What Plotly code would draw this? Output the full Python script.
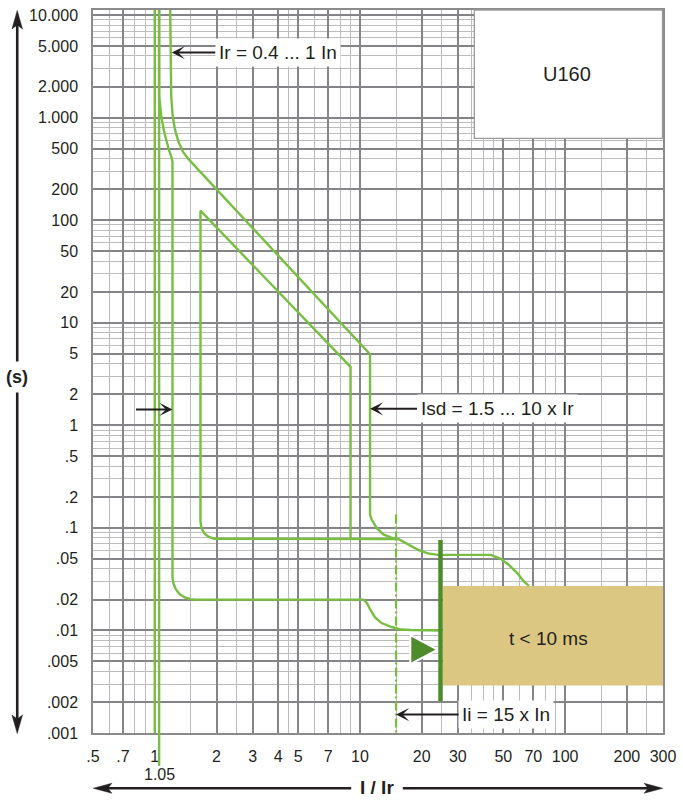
import numpy as np
import plotly.graph_objects as go

# ---------------- axis ticks and grid ----------------
x_tick_vals = [0.5, 0.7, 1, 2, 3, 4, 5, 7, 10, 20, 30, 50, 70, 100, 200, 300]
x_tick_text = [".5", ".7", "1", "2", "3", "4", "5", "7", "10", "20", "30", "50", "70", "100", "200", "300"]
x_minor_vals = [0.6, 0.8, 0.9, 1.5, 2.5, 4.5, 6, 8, 9, 15, 25, 35, 40, 45, 60, 80, 90, 150, 250]

y_tick_vals = [0.001, 0.002, 0.005, 0.01, 0.02, 0.05, 0.1, 0.2, 0.5, 1, 2, 5,
               10, 20, 50, 100, 200, 500, 1000, 2000, 5000, 10000]
y_tick_text = [".001", ".002", ".005", ".01", ".02", ".05", ".1", ".2", ".5", "1", "2", "5",
               "10", "20", "50", "100", "200", "500", "1.000", "2.000", "5.000", "10.000"]
y_minor_vals = [0.003, 0.004, 0.006, 0.007, 0.008, 0.009,
                0.03, 0.04, 0.06, 0.07, 0.08, 0.09,
                0.3, 0.4, 0.6, 0.7, 0.8, 0.9,
                3, 4, 6, 7, 8, 9,
                30, 40, 60, 70, 80, 90,
                300, 400, 600, 700, 800, 900,
                3000, 4000, 6000, 7000, 8000, 9000]

# ---------------- tripping curves (I/Ir vs seconds) ----------------
# Ir setting limits
ir_min_x = [1.0, 1.0]
ir_max_x = [1.05, 1.05]
ir_line_y = [0.001, 11500]

# long-time band, lower edge, then short-time tail down to 10 ms
lt_low_x = [1.05, 1.05, 1.078, 1.118, 1.173, 1.205, 1.22, 1.22, 1.235, 1.27, 1.325, 1.4,
            1.49, 1.59, 10.4, 10.8, 11.2, 11.85, 12.75, 14.3, 15.9, 17.8, 24.7]
lt_low_y = [11500, 1620, 1000, 693, 482, 416, 370, 0.0325, 0.0285, 0.025, 0.0225, 0.021,
            0.0202, 0.02, 0.02, 0.0186, 0.0161, 0.0134, 0.0118, 0.0108, 0.0102, 0.0101, 0.01]

# long-time band, upper edge, short-time knee at Isd max, then instantaneous tail
lt_high_x = [1.189, 1.195, 1.203, 1.222, 1.257, 1.307, 1.374, 1.461, 1.562, 1.689, 11.2, 11.2,
             11.4, 12.06, 13.0, 14.53, 15.37, 17.18, 19.2, 21.46, 24.0, 43.5, 48.6, 53.4, 58.6,
             63.1, 66.7]
lt_high_y = [11500, 3318, 1616, 1050, 752, 578, 464, 394, 340, 288, 4.93, 0.135,
             0.1205, 0.1, 0.0865, 0.0792, 0.078, 0.0684, 0.061, 0.0565, 0.0546, 0.0546, 0.05,
             0.0432, 0.036, 0.0299, 0.0272]

# short-time pickup, lower setting (I2t branch)
st_low_x = [15.37, 2.02, 1.95, 1.836, 1.747, 1.689, 1.67, 1.67, 9.0, 9.0]
st_low_y = [0.078, 0.078, 0.0785, 0.0815, 0.088, 0.0993, 0.116, 124, 3.72, 0.078]

# instantaneous pickup Ii
ii_x = [15, 15]
ii_y = [0.135, 0.001]

# instantaneous trip marker bar
bar_x = [24.7, 24.7]
bar_y = [0.076, 0.00205]

# non-delayed region t < 10 ms
zone_x = [25.4, 300, 300, 25.4, 25.4]
zone_y = [0.0029, 0.0029, 0.0272, 0.0272, 0.0029]

# pointer triangle
tri_x = [17.6, 23.9, 17.6, 17.6]
tri_y = [0.0090, 0.0065, 0.0047, 0.0090]

GREEN = "#78BE43"
DARK_GREEN = "#4C8C2B"
TAN = "#DBC682"
INK = "#231f20"
GRID_DARK = "#858589"
GRID_LIGHT = "#bcbcbc"

fig = go.Figure()

fig.add_trace(go.Scatter(x=zone_x, y=zone_y, mode="lines", fill="toself",
                         fillcolor=TAN, line=dict(width=0, color=TAN), hoverinfo="skip"))

for xs, ys in [(ir_min_x, ir_line_y), (ir_max_x, ir_line_y), (lt_low_x, lt_low_y),
               (lt_high_x, lt_high_y), (st_low_x, st_low_y)]:
    fig.add_trace(go.Scatter(x=xs, y=ys, mode="lines",
                             line=dict(color=GREEN, width=2.4), hoverinfo="skip"))

fig.add_trace(go.Scatter(x=ii_x, y=ii_y, mode="lines",
                         line=dict(color=GREEN, width=2.3, dash="9px,3px,2px,3px"),
                         hoverinfo="skip"))
fig.add_trace(go.Scatter(x=bar_x, y=bar_y, mode="lines",
                         line=dict(color=DARK_GREEN, width=4.5), hoverinfo="skip"))
fig.add_trace(go.Scatter(x=tri_x, y=tri_y, mode="lines", fill="toself",
                         fillcolor=DARK_GREEN, line=dict(color="white", width=2), hoverinfo="skip"))

# plot area in pixels: left 93, top 7, width 574, height 726
def pxx(v):
    return (v - 93) / 574.0


def pxy(v):
    return (733 - v) / 726.0


shapes = []
# 1.05 limit continues below the axis down to its label
shapes.append(dict(type="line", xref="x", yref="paper", x0=1.05, x1=1.05, y0=pxy(766), y1=0,
                   line=dict(color=GREEN, width=2.4)))
# breaker rating box
shapes.append(dict(type="rect", xref="paper", yref="paper", x0=pxx(477), x1=pxx(666.5),
                   y0=pxy(136), y1=1.0, fillcolor="white", line=dict(color="#9a9a9a", width=1.3),
                   layer="above"))
# axis direction arrows
axis_line = dict(color=INK, width=2.6)
shapes += [
    dict(type="line", xref="paper", yref="paper", x0=pxx(16.7), x1=pxx(16.7), y0=pxy(22), y1=pxy(360), line=axis_line),
    dict(type="line", xref="paper", yref="paper", x0=pxx(16.7), x1=pxx(16.7), y0=pxy(391), y1=pxy(719), line=axis_line),
    dict(type="line", xref="paper", yref="paper", x0=pxx(108), x1=pxx(353), y0=pxy(788.5), y1=pxy(788.5), line=axis_line),
    dict(type="line", xref="paper", yref="paper", x0=pxx(405), x1=pxx(652), y0=pxy(788.5), y1=pxy(788.5), line=axis_line),
]


def head(points):
    d = "M " + " L ".join(f"{pxx(a):.5f},{pxy(b):.5f}" for a, b in points) + " Z"
    return dict(type="path", xref="paper", yref="paper", path=d, fillcolor=INK,
                line=dict(color=INK, width=0.5))


shapes += [
    head([(16.7, 7.5), (11.4, 26), (16.7, 22), (22.0, 26)]),
    head([(16.7, 733.5), (11.4, 715), (16.7, 719), (22.0, 715)]),
    head([(93.3, 788.5), (112, 783.5), (108, 788.5), (112, 793.5)]),
    head([(666.7, 788.5), (648, 783.5), (652, 788.5), (648, 793.5)]),
]

ann_font = dict(size=19, color=INK)
arrow_kw = dict(showarrow=True, arrowhead=3, arrowsize=1.1, arrowwidth=2, arrowcolor=INK, standoff=0)
center = dict(xanchor="center", yanchor="middle")
annotations = [
    dict(x=np.log10(1.21), y=3.635, xref="x", yref="y", ax=106, ay=0, text="Ir = 0.4 ... 1 In",
         font=ann_font, bgcolor="white", borderpad=3, **arrow_kw),
    dict(x=np.log10(11.2), y=0.1607, xref="x", yref="y", ax=127, ay=0, text="Isd = 1.5 ... 10 x Ir",
         font=ann_font, bgcolor="white", borderpad=3, **arrow_kw),
    dict(x=np.log10(1.22), y=0.155, xref="x", yref="y", ax=-38, ay=0, text="", **arrow_kw),
    dict(x=np.log10(15), y=-2.82, xref="x", yref="y", ax=110, ay=0, text="Ii = 15 x In",
         font=ann_font, bgcolor="white", borderpad=3, **arrow_kw),
    dict(x=np.log10(83.4), y=np.log10(0.0083), xref="x", yref="y", text="t < 10 ms",
         showarrow=False, font=ann_font, **center),
    dict(x=pxx(570), y=pxy(71.7), xref="paper", yref="paper", text="U160",
         showarrow=False, font=dict(size=20, color=INK), **center),
    dict(x=np.log10(1.05), y=pxy(775), xref="x", yref="paper", text="1.05",
         showarrow=False, font=dict(size=16, color=INK), **center),
    dict(x=pxx(16.7), y=pxy(376), xref="paper", yref="paper", text="<b>(s)</b>",
         showarrow=False, font=dict(size=18, color=INK), **center),
    dict(x=pxx(379), y=pxy(787.5), xref="paper", yref="paper", text="<b>I / Ir</b>",
         showarrow=False, font=dict(size=19, color=INK), **center),
]

fig.update_layout(
    width=683, height=800,
    margin=dict(l=93, r=16, t=7, b=67),
    paper_bgcolor="white", plot_bgcolor="white",
    showlegend=False,
    font=dict(family="Liberation Sans, Arial, sans-serif", color=INK),
    shapes=shapes, annotations=annotations,
)

fig.update_xaxes(
    type="log", range=[np.log10(0.5), np.log10(300)],
    tickmode="array", tickvals=x_tick_vals, ticktext=x_tick_text,
    tickfont=dict(size=16, color=INK), ticks="", ticklabelstandoff=8,
    showgrid=True, gridcolor=GRID_DARK, gridwidth=1.6,
    minor=dict(tickmode="array", tickvals=x_minor_vals, showgrid=True,
               gridcolor=GRID_LIGHT, gridwidth=1.2, ticks=""),
    showline=True, mirror=True, linecolor="#8a8a8a", linewidth=1.5, zeroline=False,
)
fig.update_yaxes(
    type="log", range=[-3, 4.05],
    tickmode="array", tickvals=y_tick_vals, ticktext=y_tick_text,
    tickfont=dict(size=16, color=INK), ticks="", ticklabelstandoff=10,
    showgrid=True, gridcolor=GRID_DARK, gridwidth=1.6,
    minor=dict(tickmode="array", tickvals=y_minor_vals, showgrid=True,
               gridcolor=GRID_LIGHT, gridwidth=1.2, ticks=""),
    showline=True, mirror=True, linecolor="#8a8a8a", linewidth=1.5, zeroline=False,
)

fig.write_html("out.html")
